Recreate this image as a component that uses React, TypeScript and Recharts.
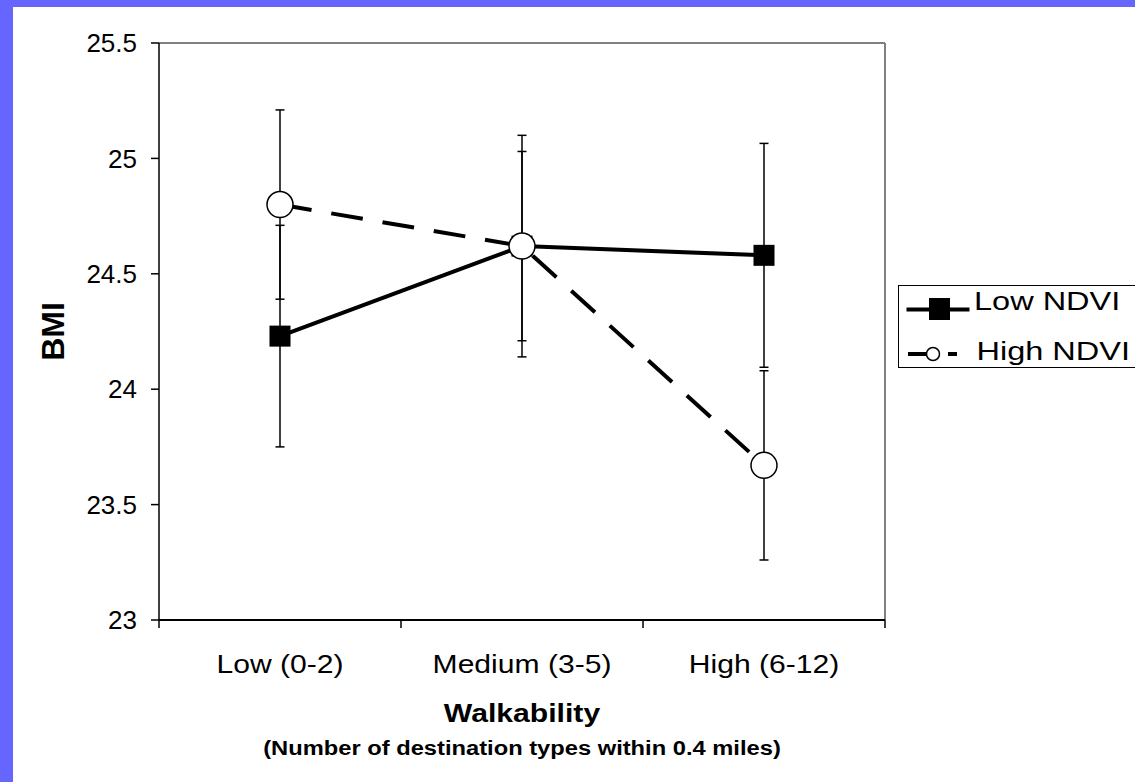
import React from 'react';
import { ComposedChart, Line, XAxis, YAxis, ErrorBar, Customized, ReferenceLine } from 'recharts';

const categories = ['Low (0-2)', 'Medium (3-5)', 'High (6-12)'];
const lowNdvi = [24.23, 24.62, 24.58];
const lowNdviErr = [0.48, 0.41, 0.485];
const highNdvi = [24.8, 24.62, 23.67];
const highNdviErr = [0.41, 0.48, 0.41];
const seriesNames = ['Low NDVI', 'High NDVI'];
const yTicks = [23, 23.5, 24, 24.5, 25, 25.5];
const yDomain: [number, number] = [23, 25.5];
const xTitle = 'Walkability';
const xSubtitle = '(Number of destination types within 0.4 miles)';
const yTitle = 'BMI';

const data = categories.map((c, i) => ({
  cat: c,
  low: lowNdvi[i],
  lowErr: lowNdviErr[i],
  high: highNdvi[i],
  highErr: highNdviErr[i],
}));

const FONT = '"Liberation Sans", Arial, Helvetica, sans-serif';

const CHART_W = 1122;
const CHART_H = 775;
const MARGIN = { top: 36, right: 250, left: 0, bottom: 0 };
const Y_AXIS_W = 146;
const PLOT_W = CHART_W - MARGIN.right - MARGIN.left - Y_AXIS_W;

const SquareDot = (props: any) => {
  const { cx, cy, index } = props;
  if (cx == null || cy == null) return null;
  return <rect key={`sq-${index}`} x={cx - 10.5} y={cy - 10.5} width={21} height={21} fill="#000" />;
};

const CircleDot = (props: any) => {
  const { cx, cy, index } = props;
  if (cx == null || cy == null) return null;
  return <circle key={`ci-${index}`} cx={cx} cy={cy} r={13} fill="#fff" stroke="#000" strokeWidth={1.5} />;
};

const XTick = (props: any) => {
  const { x, y, payload, index, visibleTicksCount } = props;
  const count = visibleTicksCount || categories.length;
  const half = PLOT_W / count / 2;
  return (
    <g>
      <line x1={x - half} x2={x - half} y1={y} y2={y + 8} stroke="#000" strokeWidth={1.5} />
      {index === count - 1 && (
        <line x1={x + half} x2={x + half} y1={y} y2={y + 8} stroke="#000" strokeWidth={1.5} />
      )}
      <text
        transform={`translate(${x},${y + 53}) scale(1.157,1)`}
        textAnchor="middle"
        fontSize={26}
        fontFamily={FONT}
        fill="#000"
      >
        {payload.value}
      </text>
    </g>
  );
};

const XTitle = (props: any) => {
  const vb = props.viewBox || { x: 146, y: 613, width: 726, height: 162 };
  const cx = vb.x + vb.width / 2;
  return (
    <g>
      <text
        transform={`translate(${cx},${vb.y + 102}) scale(1.16,1)`}
        textAnchor="middle"
        fontSize={26}
        fontWeight="bold"
        fontFamily={FONT}
        fill="#000"
      >
        {xTitle}
      </text>
      <text
        transform={`translate(${cx},${vb.y + 135}) scale(1.186,1)`}
        textAnchor="middle"
        fontSize={20}
        fontWeight="bold"
        fontFamily={FONT}
        fill="#000"
      >
        {xSubtitle}
      </text>
    </g>
  );
};

const YTitle = (props: any) => {
  const vb = props.viewBox || { x: 0, y: 36, width: 146, height: 577 };
  const cx = vb.x + 40;
  const cy = vb.y + vb.height / 2;
  return (
    <text
      x={cx}
      y={cy}
      transform={`rotate(-90, ${cx}, ${cy})`}
      textAnchor="middle"
      dominantBaseline="central"
      fontSize={32}
      fontWeight="bold"
      fontFamily={FONT}
      fill="#000"
    >
      {yTitle}
    </text>
  );
};

const LegendBox = () => (
  <g transform="translate(885,278)">
    <rect x={0.5} y={0.5} width={262} height={82} fill="#fff" stroke="#000" strokeWidth={1} />
    <line x1={8.5} x2={71.5} y1={24.5} y2={24.5} stroke="#000" strokeWidth={4} />
    <rect x={31} y={13} width={21} height={22} fill="#000" />
    <text transform="translate(76,25) scale(1.25,1)" fontSize={26} fontFamily={FONT} fill="#000">
      {seriesNames[0]}
    </text>
    <line
      x1={10}
      x2={72}
      y1={69}
      y2={69}
      stroke="#000"
      strokeWidth={4}
      strokeDasharray="30 10 9 100"
    />
    <circle cx={35} cy={69} r={6.5} fill="#fff" stroke="#000" strokeWidth={1.5} />
    <text transform="translate(78.5,75) scale(1.25,1)" fontSize={26} fontFamily={FONT} fill="#000">
      {seriesNames[1]}
    </text>
  </g>
);

export default function App() {
  return (
    <div
      style={{
        position: 'absolute',
        left: 0,
        top: 0,
        width: 1135,
        height: 782,
        background: '#6666FF',
        overflow: 'hidden',
      }}
    >
      <div
        style={{
          position: 'absolute',
          left: 13,
          top: 7,
          width: CHART_W,
          height: CHART_H,
          background: '#fff',
          overflow: 'hidden',
        }}
      >
        <ComposedChart width={CHART_W} height={CHART_H} data={data} margin={MARGIN}>
          <ReferenceLine y={yDomain[1]} stroke="#808080" strokeWidth={2} ifOverflow="visible" />
          <ReferenceLine
            x={categories[categories.length - 1]}
            position="end"
            stroke="#808080"
            strokeWidth={2}
            ifOverflow="visible"
          />
          <XAxis
            dataKey="cat"
            type="category"
            scale="band"
            height={162}
            axisLine={{ stroke: '#000', strokeWidth: 2 }}
            tickLine={false}
            tickSize={0}
            tickMargin={0}
            interval={0}
            tick={<XTick />}
            label={<XTitle />}
          />
          <YAxis
            type="number"
            domain={yDomain}
            ticks={yTicks}
            interval={0}
            width={Y_AXIS_W}
            tickSize={8}
            tickMargin={14}
            axisLine={{ stroke: '#000', strokeWidth: 1.5 }}
            tickLine={{ stroke: '#000', strokeWidth: 1.5 }}
            tick={{ fontSize: 26, fill: '#000', fontFamily: FONT }}
            label={<YTitle />}
          />
          <Line
            name={seriesNames[0]}
            dataKey="low"
            type="linear"
            stroke="#000"
            strokeWidth={4}
            dot={<SquareDot />}
            activeDot={false}
            isAnimationActive={false}
          >
            <ErrorBar dataKey="lowErr" width={4.5} stroke="#000" strokeWidth={1.5} direction="y" />
          </Line>
          <Line
            name={seriesNames[1]}
            dataKey="high"
            type="linear"
            stroke="#000"
            strokeWidth={4}
            strokeDasharray="32 20"
            dot={<CircleDot />}
            activeDot={false}
            isAnimationActive={false}
          >
            <ErrorBar dataKey="highErr" width={4.5} stroke="#000" strokeWidth={1.5} direction="y" />
          </Line>
          <Customized component={LegendBox} />
        </ComposedChart>
      </div>
    </div>
  );
}
